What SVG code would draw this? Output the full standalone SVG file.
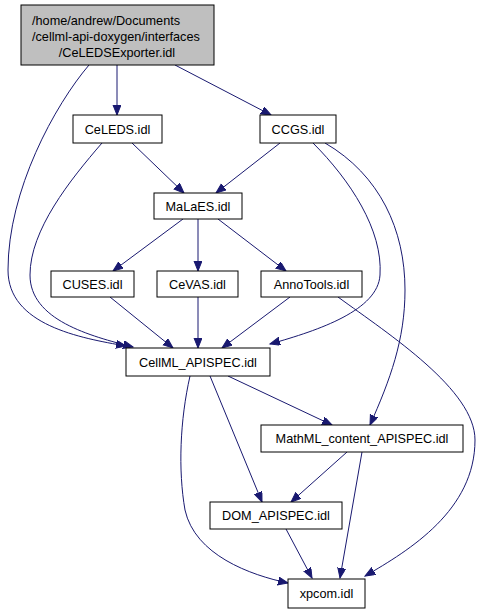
<svg xmlns="http://www.w3.org/2000/svg" width="486" height="613" viewBox="0 0 486 613">
<style>
.n rect{fill:#fff;stroke:#000;stroke-width:1}
.n.root rect{fill:#bfbfbf}
text{font-family:"Liberation Sans",Arial,sans-serif;font-size:12.7px;fill:#000}
.c{text-anchor:middle}
.e path{fill:none;stroke:#191970;stroke-width:1}
</style>
<defs>
<marker id="ah" markerUnits="userSpaceOnUse" markerWidth="12" markerHeight="10" refX="10" refY="4" orient="auto">
<path d="M0,0 L10,4 L0,8 z" fill="#191970" stroke="#191970" stroke-width="1"/>
</marker>
</defs>
<g class="e">
<path d="M117,65 L117,115" marker-end="url(#ah)"/>
<path d="M175,65 L271,115" marker-end="url(#ah)"/>
<path d="M89,65 C55,105 8,190 8,270 C8,325 80,338 126,346" marker-end="url(#ah)"/>
<path d="M102,143 C70,180 30,230 30,275 C30,320 90,336 133,347" marker-end="url(#ah)"/>
<path d="M132,143 L184,193" marker-end="url(#ah)"/>
<path d="M280,143 L216,193" marker-end="url(#ah)"/>
<path d="M313,143 C350,180 383,230 380,275 C378,310 320,330 270,344" marker-end="url(#ah)"/>
<path d="M325,143 C380,175 405,230 405,290 C405,340 390,380 370,425" marker-end="url(#ah)"/>
<path d="M183,219 L113,271" marker-end="url(#ah)"/>
<path d="M198,219 L198,271" marker-end="url(#ah)"/>
<path d="M218,219 L286,271" marker-end="url(#ah)"/>
<path d="M110,297 L173,348" marker-end="url(#ah)"/>
<path d="M198,297 L198,348" marker-end="url(#ah)"/>
<path d="M290,297 L222,348" marker-end="url(#ah)"/>
<path d="M338,297 C390,335 475,390 475,440 C475,510 410,550 365,576" marker-end="url(#ah)"/>
<path d="M228,376 L332,425" marker-end="url(#ah)"/>
<path d="M210,376 L262,502" marker-end="url(#ah)"/>
<path d="M190,376 C180,420 178,470 185,510 C195,555 250,575 288,583" marker-end="url(#ah)"/>
<path d="M347,452 L291,502" marker-end="url(#ah)"/>
<path d="M362,452 L340,578" marker-end="url(#ah)"/>
<path d="M286,529 L312,578" marker-end="url(#ah)"/>
</g>
<g id="root" class="n root"><rect x="21" y="5" width="193" height="60"/>
<text x="32" y="24.5">/home/andrew/Documents</text>
<text x="32" y="40.5">/cellml-api-doxygen/interfaces</text>
<text class="c" x="117" y="56.5">/CeLEDSExporter.idl</text></g>
<g id="celeds" class="n"><rect x="73" y="115" width="89" height="28"/><text class="c" x="117.5" y="133.5">CeLEDS.idl</text></g>
<g id="ccgs" class="n"><rect x="260" y="115" width="76" height="28"/><text class="c" x="298" y="133.5">CCGS.idl</text></g>
<g id="malaes" class="n"><rect x="154" y="193" width="88" height="26"/><text class="c" x="198" y="210.5">MaLaES.idl</text></g>
<g id="cuses" class="n"><rect x="51" y="271" width="83" height="26"/><text class="c" x="92.5" y="288.5">CUSES.idl</text></g>
<g id="cevas" class="n"><rect x="157" y="271" width="81" height="26"/><text class="c" x="197.5" y="288.5">CeVAS.idl</text></g>
<g id="annotools" class="n"><rect x="261" y="271" width="101" height="26"/><text class="c" x="311.5" y="288.5">AnnoTools.idl</text></g>
<g id="cellml" class="n"><rect x="126" y="348" width="144" height="28"/><text class="c" x="198" y="366.5">CellML_APISPEC.idl</text></g>
<g id="mathml" class="n"><rect x="261" y="425" width="202" height="27"/><text class="c" x="362" y="443">MathML_content_APISPEC.idl</text></g>
<g id="dom" class="n"><rect x="210" y="502" width="132" height="27"/><text class="c" x="276" y="520">DOM_APISPEC.idl</text></g>
<g id="xpcom" class="n"><rect x="288" y="579" width="77" height="29"/><text class="c" x="326.5" y="598">xpcom.idl</text></g>
</svg>
